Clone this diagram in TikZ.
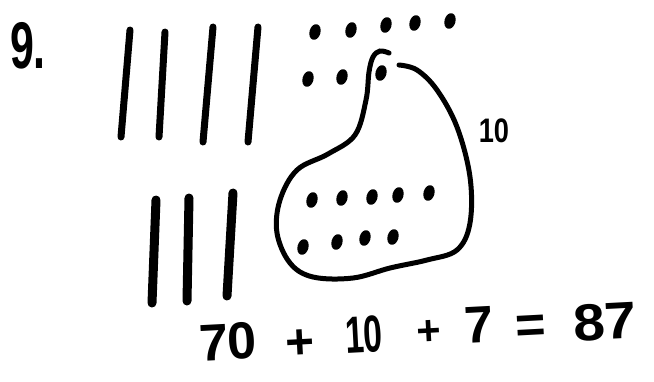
\documentclass[tikz,border=0pt]{standalone}
\usepackage{fontspec}
\setmainfont{Liberation Sans}
\begin{document}
\begin{tikzpicture}[x=1pt,y=-1pt,
  tally/.style={line width=7pt,line cap=round},
  tallyb/.style={line width=9pt,line cap=round},
  loopline/.style={line width=5pt,line cap=round},
  hand/.style={inner sep=0pt,font=\fontsize{52}{52}\selectfont\bfseries}]
\useasboundingbox (0,0) rectangle (654,381);
\newcommand\hdot[2]{\fill[rotate around={-15:(#1,#2)}] (#1,#2) ellipse [x radius=5.5pt, y radius=8pt];}
% problem number
\node[inner sep=0pt,font=\fontsize{66}{66}\selectfont\bfseries,xscale=0.65] (num) at (28,46) {9.};
% top tallies
\draw[tally] (130,30) -- (121,137);
\draw[tally] (165,32) -- (159,137);
\draw[tally] (213,27) -- (203,142);
\draw[tally] (258,27) -- (248,142);
% bottom tallies
\draw[tallyb] (156,200) -- (152,303);
\draw[tallyb] (189,198) -- (187,301);
\draw[tallyb] (233,193) -- (227,296);
% top dots
\hdot{315}{32}\hdot{351}{30}\hdot{386}{25}\hdot{415}{23}\hdot{450}{21}
\hdot{308}{79}\hdot{342}{77}\hdot{381}{73}
% loop
\draw[loopline] plot[smooth,tension=0.6] coordinates {(389,53) (380,51) (373,57) (369,72) (366,100) (355,135) (328,154) (297,170) (280,200) (277,233) (290,263) (313,277) (353,278) (390,268) (427,260) (457,250) (470,223) (470,177) (457,127) (437,90) (417,70) (399,65)};
% dots in loop
\hdot{312}{200}\hdot{342}{198}\hdot{372}{197}\hdot{398}{195}\hdot{429}{193}
\hdot{303}{247}\hdot{337}{242}\hdot{365}{238}\hdot{393}{237}
% label
\node[inner sep=0pt,font=\fontsize{34}{34}\selectfont\bfseries,xscale=0.8] (ten) at (494,131) {10};
% equation
\node[hand,rotate=3] (a) at (228,342) {70};
\node[hand,rotate=3,scale=0.95] (p1) at (300,344) {+};
\node[hand,rotate=3,xscale=0.65] (b) at (364,335) {10};
\node[hand,rotate=3,scale=0.8] (p2) at (429,333) {+};
\node[hand,rotate=3] (c) at (479,325) {7};
\node[hand,rotate=3] (eq) at (531,329) {=};
\node[hand,rotate=3,xscale=1.1] (d) at (605,322) {87};
\end{tikzpicture}
\end{document}
